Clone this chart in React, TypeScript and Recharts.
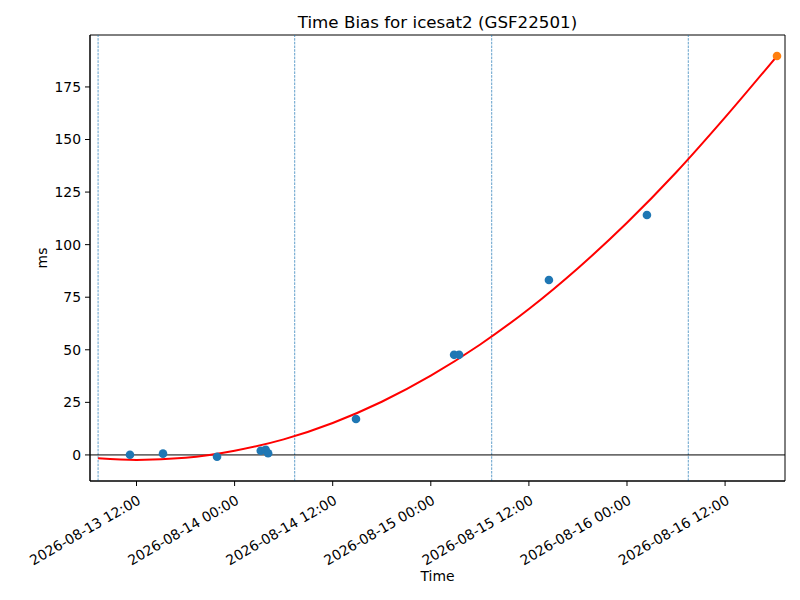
import {
  ComposedChart,
  Line,
  ReferenceArea,
  ReferenceLine,
  Scatter,
  XAxis,
  YAxis,
} from "recharts"

// hours since 2026-08-13 00:00
const obsHours = [11.2, 15.24, 21.85, 27.2, 27.8, 28.1, 38.85, 50.85, 51.46, 62.45, 74.44]
const obsBias = [0.1, 0.6, -0.9, 2.0, 2.4, 0.8, 17.1, 47.6, 47.6, 83.2, 114.1]

const latestHour = [90.35]
const latestBias = [189.7]

const fitHours = [7.3, 12, 18, 24, 30, 36, 42, 48, 54, 60, 66, 72, 78, 84, 90.35]
const fitBias = [-1.6, -2.4, -1.4, 2.0, 7.4, 15.2, 25.3, 37.7, 52.4, 69.4, 88.8, 110.4, 134.3, 160.5, 189.7]

const dayMarks = [7.3, 31.35, 55.45, 79.5]

const xTicks = [12, 24, 36, 48, 60, 72, 84]
const xTickLabels = [
  "2026-08-13 12:00",
  "2026-08-14 00:00",
  "2026-08-14 12:00",
  "2026-08-15 00:00",
  "2026-08-15 12:00",
  "2026-08-16 00:00",
  "2026-08-16 12:00",
]
const yTicks = [0, 25, 50, 75, 100, 125, 150, 175]

const xDomain: [number, number] = [6.31, 91.33]
const yDomain: [number, number] = [-12.4, 199.7]

const observed = obsHours.map((t, i) => ({ t, v: obsBias[i] }))
const latest = latestHour.map((t, i) => ({ t, v: latestBias[i] }))
const fit = fitHours.map((t, i) => ({ t, v: fitBias[i] }))

const FONT = "'DejaVu Sans', sans-serif"

function DateTick(props: any) {
  const { x, y, payload } = props
  const label = xTickLabels[xTicks.indexOf(payload.value)] ?? ""
  return (
    <g transform={`translate(${x},${y + 6})`}>
      <text
        textAnchor="end"
        transform="rotate(-30)"
        dy="0.75em"
        fontSize={13.9}
        fontFamily={FONT}
        fill="#000"
      >
        {label}
      </text>
    </g>
  )
}

function Dot(color: string) {
  return (props: any) => (
    <circle cx={props.cx} cy={props.cy} r={4.3} fill={color} />
  )
}

export default function App() {
  return (
    <div style={{ position: "absolute", left: 0, top: 0, width: 800, height: 600, background: "#fff", fontFamily: FONT }}>
      <div style={{ position: "absolute", left: 90, width: 695, top: 12, textAlign: "center", fontSize: 16.7 }}>
        Time Bias for icesat2 (GSF22501)
      </div>
      <div
        style={{
          position: "absolute",
          left: 42,
          top: 258,
          fontSize: 13.9,
          transform: "translate(-50%, -50%) rotate(-90deg)",
        }}
      >
        ms
      </div>
      <div style={{ position: "absolute", left: 90, width: 695, top: 568, textAlign: "center", fontSize: 13.9 }}>
        Time
      </div>
      <ComposedChart
        width={800}
        height={600}
        margin={{ top: 35, right: 15, bottom: 0, left: 0 }}
      >
        <XAxis
          dataKey="t"
          type="number"
          domain={xDomain}
          ticks={xTicks}
          allowDataOverflow
          height={119}
          tickSize={5}
          tick={<DateTick />}
          stroke="#000"
          interval={0}
        />
        <YAxis
          dataKey="v"
          type="number"
          domain={yDomain}
          ticks={yTicks}
          allowDataOverflow
          width={90}
          tickSize={5}
          tickMargin={4}
          stroke="#000"
          tick={{ fill: "#000", fontSize: 13.9, fontFamily: FONT }}
          interval={0}
        />
        <ReferenceArea
          x1={xDomain[0]}
          x2={xDomain[1]}
          y1={yDomain[0]}
          y2={yDomain[1]}
          fill="none"
          stroke="#000"
          strokeWidth={1}
          fillOpacity={0}
        />
        {dayMarks.map((d) => (
          <ReferenceLine
            key={d}
            x={d}
            stroke="#1f77b4"
            strokeWidth={0.7}
            strokeDasharray="2.6 1.1"
          />
        ))}
        <ReferenceLine y={0} stroke="#000" strokeWidth={1} strokeOpacity={1} />
        <Scatter
          data={observed}
          dataKey="v"
          fill="#1f77b4"
          shape={Dot("#1f77b4")}
          isAnimationActive={false}
        />
        <Line
          data={fit}
          dataKey="v"
          type="monotone"
          stroke="#ff0000"
          strokeWidth={2}
          dot={false}
          activeDot={false}
          isAnimationActive={false}
        />
        <Scatter
          data={latest}
          dataKey="v"
          fill="#ff7f0e"
          shape={Dot("#ff7f0e")}
          isAnimationActive={false}
        />
      </ComposedChart>
    </div>
  )
}
